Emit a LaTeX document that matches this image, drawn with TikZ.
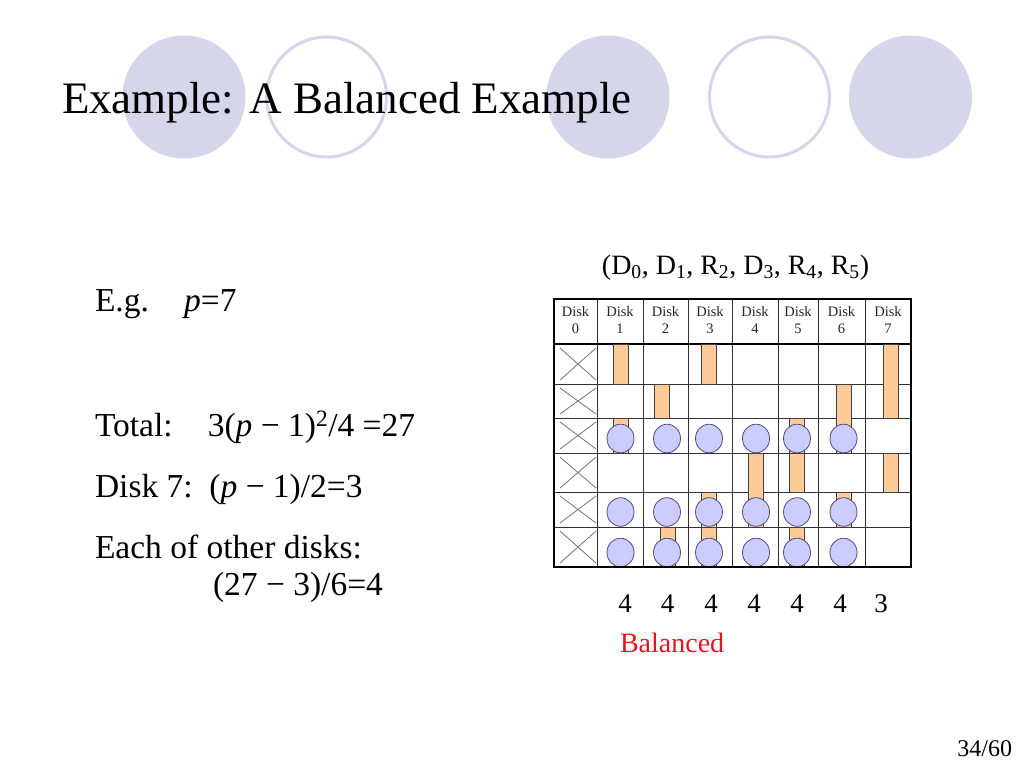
\documentclass[tikz,border=0pt]{standalone}
\usepackage{fontspec}
\setmainfont{Liberation Serif}
\definecolor{lav}{HTML}{D6D6EB}
\definecolor{barfill}{HTML}{FFCC99}
\definecolor{circfill}{HTML}{CCCCFF}
\definecolor{circline}{HTML}{4D4D80}
\definecolor{gridc}{HTML}{303030}
\definecolor{balred}{HTML}{E8141B}
\newcommand{\hd}[1]{\strut Disk\\\strut #1}
\begin{document}
\begin{tikzpicture}[x=1pt,y=-1pt,
  txt/.style={inner sep=0pt, outer sep=0pt},
  titletxt/.style={txt, anchor=base west, font=\fontsize{45}{54}\selectfont},
  body/.style={txt, anchor=base west, font=\fontsize{33.5}{40}\selectfont},
  hdr/.style={txt, align=center, font=\fontsize{14.5}{17}\selectfont, text=black!85},
  num/.style={txt, anchor=base, font=\fontsize{27}{32}\selectfont},
  bgfill/.style={fill=lav, draw=none},
  bgring/.style={fill=white, draw=lav, line width=3pt},
  barbox/.style={fill=barfill, draw=black!75, line width=0.8pt},
  disc/.style={fill=circfill, draw=circline, line width=0.8pt},
  xmark/.style={draw=black!55, line width=0.8pt},
  gridline/.style={draw=gridc, line width=0.9pt},
  frame/.style={draw=black, line width=2pt}
]
\useasboundingbox (0,0) rectangle (1024,768);
\fill[white] (0,0) rectangle (1024,768);

% decorative circles
\path[bgfill] (184,97) circle[radius=61.5];
\path[bgring] (326.5,97) circle[radius=60];
\path[bgfill] (608,97) circle[radius=61.5];
\path[bgring] (769.5,97) circle[radius=60];
\path[bgfill] (910.5,97) circle[radius=61.5];

% title
\node[titletxt] (title) at (62,113) {Example: A Balanced Example};

% left text
\node[body] (eg) at (95,311) {E.g.\hspace{1.05em}\textit{p}=7};
\node[body] (total) at (95,436) {Total:\hspace{1.05em}3(\textit{p} − 1)\textsuperscript{2}/4 =27};
\node[body] (disk7) at (95,497) {Disk 7:\hspace{0.5em}(\textit{p} − 1)/2=3};
\node[body] (each) at (95,558) {Each of other disks:};
\node[body] (calc) at (213,595) {(27 − 3)/6=4};

% tuple label
\node[txt, anchor=base, font=\fontsize{28}{32}\selectfont] (tuple) at (735.5,274)
  {(D\textsubscript{0}, D\textsubscript{1}, R\textsubscript{2}, D\textsubscript{3}, R\textsubscript{4}, R\textsubscript{5})};

% table background
\fill[white] (554,299) rectangle (911,567);

% grid
\foreach \x in {597,643,688,732,778,818,865}
  \draw[gridline] (\x,299) -- (\x,567);
\foreach \y in {384,418,453,492,527}
  \draw[gridline] (554,\y) -- (911,\y);
\draw[draw=black, line width=1.5pt] (554,344) -- (911,344);

% X marks in disk 0 column
\foreach \t/\b in {344/384,384/418,418/453,453/492,492/527,527/567}{
  \draw[xmark] (560,\t+4) -- (596,\b-4);
  \draw[xmark] (560,\b-4) -- (596,\t+4);
}

% header
\node[hdr] (h0) at (575.5,322) {\hd{0}};
\node[hdr] (h1) at (620,322) {\hd{1}};
\node[hdr] (h2) at (665.5,322) {\hd{2}};
\node[hdr] (h3) at (710,322) {\hd{3}};
\node[hdr] (h4) at (755,322) {\hd{4}};
\node[hdr] (h5) at (798,322) {\hd{5}};
\node[hdr] (h6) at (841.5,322) {\hd{6}};
\node[hdr] (h7) at (888,322) {\hd{7}};

% bars (x centre / top / bottom)
\foreach \cx/\t/\b in {
  620.5/344/384, 620.5/418/453,
  662/384/418, 667.5/527/567,
  709/344/384, 709/492/527, 709/527/567,
  755.5/453/527,
  796.5/418/453, 796.5/453/492, 796.5/527/567,
  844/384/453, 844/492/527,
  890.5/344/418, 890.5/453/492}
  \draw[barbox] (\cx-7.5,\t) rectangle (\cx+7.5,\b);

% discs
\foreach \cy in {438.5,512,552.5}
  \foreach \cx in {620.5,667,709,756,797,843.5}
    \draw[disc] (\cx,\cy) ellipse[x radius=13.5, y radius=14.3];

% outer frame
\draw[frame] (554,299) rectangle (911,567);

% counts
\node[num] (c1) at (625,612) {4};
\node[num] (c2) at (667.5,612) {4};
\node[num] (c3) at (711,612) {4};
\node[num] (c4) at (754,612) {4};
\node[num] (c5) at (797,612) {4};
\node[num] (c6) at (840,612) {4};
\node[num] (c7) at (881,612) {3};

\node[txt, anchor=base west, text=balred, font=\fontsize{28}{32}\selectfont] (bal) at (620,652) {Balanced};

% page number
\node[txt, anchor=base east, font=\fontsize{24}{28}\selectfont] (page) at (1012,756) {34/60};
\end{tikzpicture}
\end{document}
